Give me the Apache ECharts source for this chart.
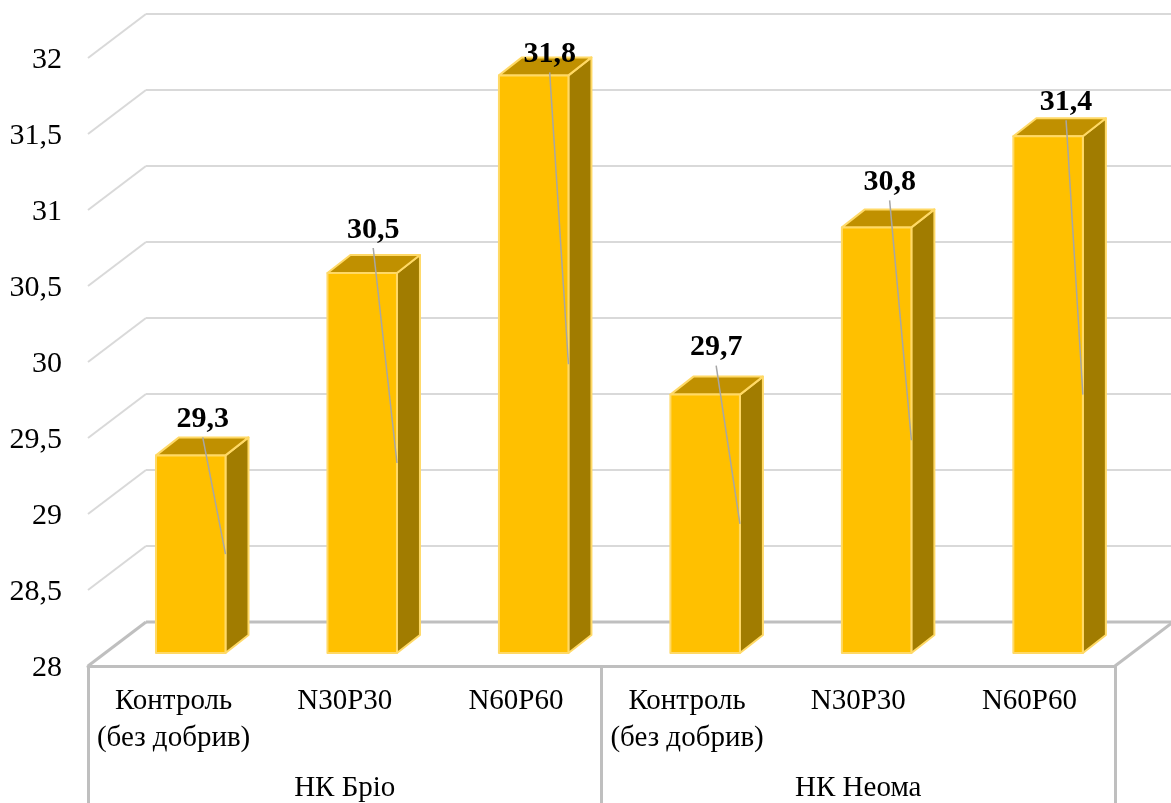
<!DOCTYPE html>
<html>
<head>
<meta charset="utf-8">
<style>html,body{margin:0;padding:0;background:#fff}#chart{width:1171px;height:803px}</style>
<script src="https://cdn.jsdelivr.net/npm/echarts@6/dist/echarts.min.js"></script>
</head>
<body>
<div id="chart"></div>
<script>
// Grain values per fertiliser treatment, two hybrids
const categories = ['Контроль\n(без добрив)', 'N30P30', 'N60P60', 'Контроль\n(без добрив)', 'N30P30', 'N60P60'];
const hybrids = ['НК Бріо', 'НК Неома'];
const values = [29.3, 30.5, 31.8, 29.7, 30.8, 31.4];
const valueLabels = ['29,3', '30,5', '31,8', '29,7', '30,8', '31,4'];
const axisTicks = [28, 28.5, 29, 29.5, 30, 30.5, 31, 31.5, 32];

// Hand placement of each data label relative to its bar's top centre [dx, dy]
const labelShift = [[12, -36], [11, -43], [16, -21], [11, -47], [13, -45], [18, -34]];

const font = '"Liberation Serif", "Times New Roman", serif';
const wallDepth = [58, -44];   // floor front edge to back wall
const barInset = [17, -13];    // front plane to the bars' front faces
const barSpread = 1.0018;      // the bars' plane sits deeper, so it spreads a touch wider
const barDepth = [23, -18];
const barWidth = 69.5;
const grey = '#bfbfbf';
const lightGrey = '#d9d9d9';
const barEdge = { stroke: '#ffd966', lineWidth: 2, lineJoin: 'round' };

function renderWall(params, api) {
  const v = api.value(0);
  const p = api.coord([0, v]);
  const x0 = params.coordSys.x;
  const x1 = x0 + params.coordSys.width;
  const isFloor = v === axisTicks[0];
  const style = { stroke: isFloor ? grey : lightGrey, lineWidth: isFloor ? 3 : 2, fill: 'none' };
  const y = p[1];
  const children = [
    { type: 'line', shape: { x1: x0, y1: y, x2: x0 + wallDepth[0], y2: y + wallDepth[1] }, style },
    { type: 'line', shape: { x1: x0 + wallDepth[0], y1: y + wallDepth[1], x2: x1 + wallDepth[0], y2: y + wallDepth[1] }, style }
  ];
  if (isFloor) {
    children.push({ type: 'line', shape: { x1: x1, y1: y, x2: x1 + wallDepth[0], y2: y + wallDepth[1] }, style });
  }
  return { type: 'group', children };
}

function renderBar(params, api) {
  const i = api.value(0);
  const top = api.coord([i, api.value(1)]);
  const base = api.coord([i, axisTicks[0]]);
  const x0 = params.coordSys.x;
  const xl = x0 + (top[0] - x0) * barSpread + barInset[0] - barWidth / 2;
  const xr = xl + barWidth;
  const yt = top[1] + barInset[1];
  const yb = base[1] + barInset[1];
  const [dx, dy] = barDepth;
  const cx = (xl + xr) / 2;
  const shift = labelShift[i];
  const lx = cx + shift[0];
  const ly = yt + shift[1];
  return {
    type: 'group',
    children: [
      { type: 'polygon', shape: { points: [[xr, yt], [xr + dx, yt + dy], [xr + dx, yb + dy], [xr, yb]] },
        style: { fill: '#a17c00', ...barEdge } },
      { type: 'polygon', shape: { points: [[xl, yt], [xl + dx, yt + dy], [xr + dx, yt + dy], [xr, yt]] },
        style: { fill: '#c09000', ...barEdge } },
      { type: 'rect', shape: { x: xl, y: yt, width: barWidth, height: yb - yt },
        style: { fill: '#ffc000', ...barEdge } },
      { type: 'line', shape: { x1: lx, y1: ly + 18, x2: xr, y2: (yt + yb) / 2 },
        style: { stroke: '#a6a6a6', lineWidth: 1.5 } },
      { type: 'text', x: lx, y: ly,
        style: { text: valueLabels[i], fill: '#000', font: 'bold 30px ' + font, align: 'center', verticalAlign: 'middle' } }
    ]
  };
}

const chart = echarts.init(document.getElementById('chart'), null, { renderer: 'canvas' });
chart.setOption({
  animation: false,
  backgroundColor: '#fff',
  grid: { left: 88, top: 58, width: 1027, height: 608 },
  xAxis: [
    {
      type: 'category', data: categories, position: 'bottom',
      axisLine: { show: true, lineStyle: { color: grey, width: 3 } },
      axisTick: { show: false },
      axisLabel: { color: '#000', fontFamily: font, fontSize: 29, lineHeight: 37, margin: 17, interval: 0 }
    },
    {
      type: 'category', data: hybrids, position: 'bottom',
      axisLine: { show: false },
      axisTick: { show: true, length: 140, lineStyle: { color: grey, width: 3 } },
      axisLabel: { color: '#000', fontFamily: font, fontSize: 29, margin: 108 }
    }
  ],
  yAxis: {
    type: 'value', min: 28, max: 32, interval: 0.5,
    axisLine: { show: false }, axisTick: { show: false }, splitLine: { show: false },
    axisLabel: {
      color: '#000', fontFamily: font, fontSize: 30, margin: 26, verticalAlign: 'top', lineHeight: 5,
      formatter: v => String(v).replace('.', ',')
    }
  },
  series: [
    { type: 'custom', silent: true, clip: false, renderItem: renderWall, data: axisTicks.map(v => [v]), z: 1,
      encode: { y: 0 } },
    { type: 'custom', silent: true, clip: false, renderItem: renderBar, z: 2,
      data: values.map((v, i) => [i, v]), encode: { x: 0, y: 1 } }
  ]
});
</script>
</body>
</html>
